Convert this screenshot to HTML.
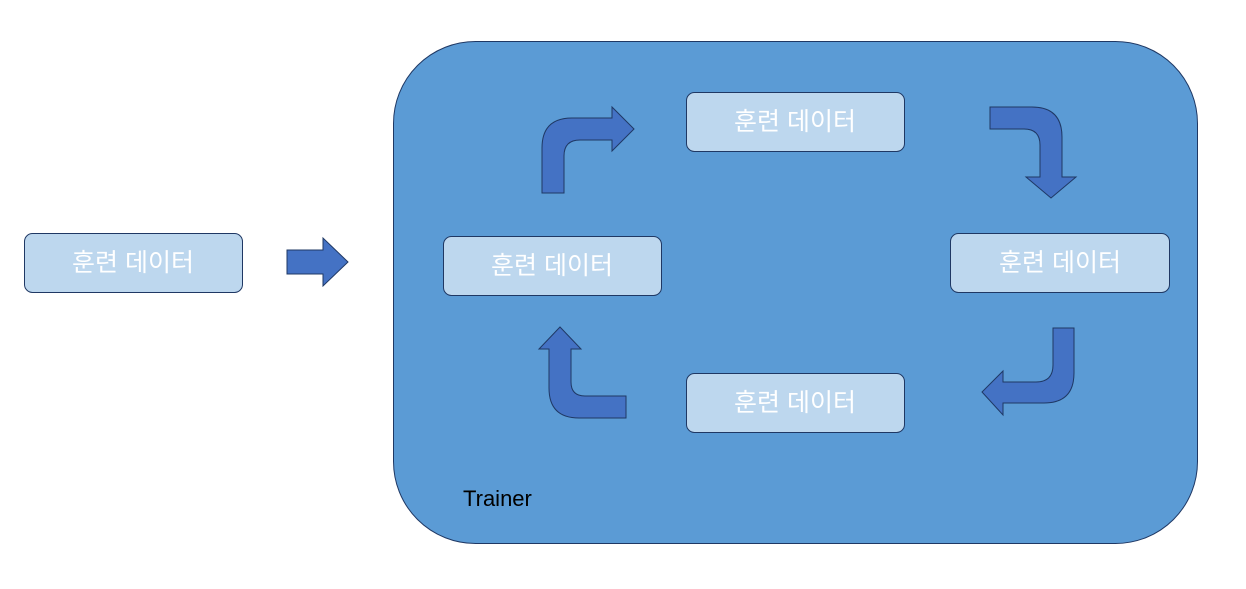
<!DOCTYPE html>
<html><head><meta charset="utf-8"><style>
body{margin:0;background:#fff}
svg{display:block}
text{font-family:"Liberation Sans","Noto Sans CJK KR",sans-serif}
</style></head><body>
<svg width="1246" height="589" viewBox="0 0 1246 589">
<rect x="393.5" y="41.5" width="804" height="502" rx="82" fill="#5b9bd5" stroke="#1f3864" stroke-width="1"/>
<g fill="#bdd7ee" stroke="#1f3864" stroke-width="1">
<rect x="24.5" y="233.5" width="218" height="59" rx="8"/>
<rect x="443.5" y="236.5" width="218" height="59" rx="8"/>
<rect x="686.5" y="92.5" width="218" height="59" rx="8"/>
<rect x="950.5" y="233.5" width="219" height="59" rx="8"/>
<rect x="686.5" y="373.5" width="218" height="59" rx="8"/>
</g>
<g fill="#fff" font-size="25" text-anchor="middle">
<text x="133" y="271">훈련 데이터</text>
<text x="552" y="274">훈련 데이터</text>
<text x="795" y="130">훈련 데이터</text>
<text x="1060" y="271">훈련 데이터</text>
<text x="795" y="411">훈련 데이터</text>
</g>
<g fill="#4472c4" stroke="#1f3864" stroke-width="1">
<path d="M287,250 L323,250 L323,238 L348,262 L323,286 L323,274 L287,274 Z"/>
<path d="M542,193 L542,148 Q542,118 572,118 L612,118 L612,107 L634,129 L612,151 L612,140 L580,140 Q564,140 564,156 L564,193 Z"/>
<path d="M990,107 L1032,107 Q1062,107 1062,137 L1062,177 L1076,177 L1051,198 L1026,177 L1040,177 L1040,145 Q1040,129 1024,129 L990,129 Z"/>
<path d="M1074,328 L1074,373 Q1074,403 1044,403 L1003,403 L1003,415 L982,392 L1003,371 L1003,382 L1036,382 Q1053,382 1053,365 L1053,328 Z"/>
<path d="M626,418 L579,418 Q549,418 549,388 L549,349 L539,349 L560,327 L581,349 L571,349 L571,382 Q571,396 585,396 L626,396 Z"/>
</g>
<text x="463" y="506" font-size="22" fill="#000">Trainer</text>
</svg>
</body></html>
